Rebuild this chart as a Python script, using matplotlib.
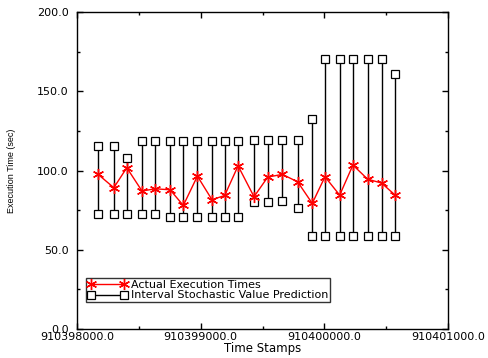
import matplotlib
matplotlib.use("Agg")
import matplotlib.pyplot as plt
from matplotlib.ticker import MultipleLocator, FormatStrFormatter

plt.rcParams['font.family'] = ['DejaVu Sans']

base = 910398000
offsets = [167, 297, 402, 525, 631, 752, 859, 973, 1091, 1194, 1302,
           1431, 1542, 1660, 1784, 1902, 2005, 2124, 2231, 2350, 2463, 2573]
actual = [97.8, 89.2, 101.8, 87.1, 88.5, 87.9, 78.0, 96.5, 81.6, 84.3, 103.0,
          83.5, 95.9, 97.6, 92.9, 79.3, 96.1, 84.5, 103.5, 94.6, 92.1, 84.5]
upper = [115.6, 115.6, 107.7, 118.8, 118.8, 118.8, 118.8, 118.8, 118.8, 118.8, 118.8,
         119.4, 119.4, 119.4, 119.4, 132.5, 170.5, 170.5, 170.5, 170.5, 170.5, 161.0]
lower = [72.7, 72.7, 72.7, 72.7, 72.7, 70.9, 70.9, 70.9, 70.9, 70.9, 70.9,
         80.1, 80.1, 80.6, 76.2, 58.5, 58.5, 58.5, 58.5, 58.5, 58.5, 58.5]

times = [base + o for o in offsets]

fig = plt.figure(figsize=(4.88, 3.58), dpi=100)
ax = fig.add_axes([0.158, 0.081, 0.760, 0.885])

# prediction intervals: vertical bar with square caps
for t, lo, hi in zip(times, lower, upper):
    ax.plot([t, t], [lo, hi], color='black', lw=1.0,
            marker='s', markersize=6, markerfacecolor='white',
            markeredgecolor='black', markeredgewidth=0.9, zorder=2)
interval_handle, = ax.plot([], [], color='black', lw=1.0, marker='s', markersize=6,
                           markerfacecolor='white', markeredgecolor='black',
                           markeredgewidth=0.9)

actual_handle, = ax.plot(times, actual, color='red', lw=1.0,
                         marker=(6, 2, 0), markersize=8, markeredgewidth=1.0,
                         zorder=3)

ax.set_xlim(910398000, 910401000)
ax.set_ylim(0, 200)
ax.xaxis.set_major_locator(MultipleLocator(1000))
ax.xaxis.set_minor_locator(MultipleLocator(500))
ax.yaxis.set_major_locator(MultipleLocator(50))
ax.yaxis.set_minor_locator(MultipleLocator(25))
ax.xaxis.set_major_formatter(FormatStrFormatter('%.1f'))
ax.yaxis.set_major_formatter(FormatStrFormatter('%.1f'))
ax.tick_params(which='both', direction='in', top=True, right=True,
               labelsize=8, width=1.0)
ax.tick_params(which='major', length=4)
ax.tick_params(which='minor', length=2)
ax.tick_params(axis='x', which='major', pad=2)
ax.tick_params(axis='y', which='major', pad=6)
for s in ax.spines.values():
    s.set_linewidth(1.0)

ax.set_xlabel('Time Stamps', fontsize=8.5, labelpad=0)
ax.set_ylabel('Execution Time (sec)', fontsize=6.5,
              family=['Liberation Sans Narrow', 'Liberation Sans', 'DejaVu Sans'])
ax.yaxis.set_label_coords(-0.165, 0.5)

leg = ax.legend([actual_handle, interval_handle],
                ['Actual Execution Times', 'Interval Stochastic Value Prediction'],
                loc='lower left', bbox_to_anchor=(0.024, 0.085), numpoints=2,
                fontsize=8, frameon=True, fancybox=False, borderpad=0.15,
                handlelength=3.6, handletextpad=0.3, labelspacing=0.05,
                borderaxespad=0)
leg.get_frame().set_edgecolor('black')
leg.get_frame().set_linewidth(1.0)

fig.savefig('out.png', dpi=100)
